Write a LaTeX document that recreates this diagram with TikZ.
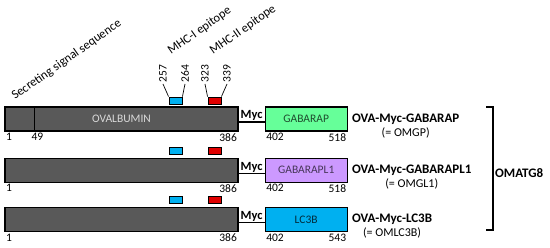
\documentclass[tikz,border=0pt]{standalone}
\usepackage{fontspec}
\setmainfont{Carlito}
\usepackage{xcolor}
\usetikzlibrary{positioning, calc}
\definecolor{cOVA}{HTML}{595959}
\definecolor{cGP}{HTML}{66FF99}
\definecolor{cGL}{HTML}{CC99FF}
\definecolor{cLC}{HTML}{00B0F0}
\definecolor{cMHCI}{HTML}{00B0F0}
\definecolor{cMHCII}{HTML}{E00000}
\tikzset{
  domain/.style={
    draw=black, line width=1.2pt,
    fill=#1,
    inner sep=0pt,
    minimum height=24pt,
    font=\fontsize{11.5}{13}\selectfont
  },
  ovabox/.style={
    domain=cOVA,
    minimum width=233pt,
    text=black!15
  },
  atgbox/.style={
    domain=#1,
    minimum width=82pt
  },
  epitope/.style={
    draw=black, line width=0.9pt,
    fill=#1,
    inner sep=0pt,
    minimum width=13pt,
    minimum height=7pt
  },
  linker/.style={
    line width=1.2pt,
    draw=black
  },
  myc/.style={
    font=\fontsize{12.5}{14}\selectfont\bfseries,
    midway,
    above=0pt,
    inner sep=0.5pt
  },
  resnum/.style={
    font=\fontsize{11.5}{13}\selectfont,
    inner sep=1.5pt
  },
  pin/.style={
    line width=0.7pt,
    draw=black
  },
  featlabel/.style={
    font=\fontsize{12.5}{14}\selectfont,
    inner sep=0pt
  },
  construct/.style={
    font=\fontsize{13}{15}\selectfont\bfseries,
    inner sep=1pt
  },
  alias/.style={
    font=\fontsize{12}{14}\selectfont,
    inner sep=1pt
  }
}

\begin{document}
\begin{tikzpicture}[x=1pt, y=-1pt, node distance=26pt and 26pt]
  \useasboundingbox (0,0) rectangle (550,248);

  % rows
  \node[ovabox] (ova1) at (121.5,119) {OVALBUMIN};
  \node[atgbox=cGP, right=of ova1, text=cGP!30!black] (gp) {GABARAP};
  \node[ovabox, below=26pt of ova1] (ova2) {};
  \node[atgbox=cGL, right=of ova2, text=cGL!35!black] (gl) {GABARAPL1};
  \node[ovabox, below=24pt of ova2] (ova3) {};
  \node[atgbox=cLC, right=of ova3, text=cLC!25!black] (lc) {LC3B};

  \draw[linker] ([yshift=-3pt]ova1.east) -- node[myc]{Myc} ([yshift=-3pt]gp.west);
  \draw[linker] ([yshift=-3pt]ova2.east) -- node[myc]{Myc} ([yshift=-3pt]gl.west);
  \draw[linker] ([yshift=-3pt]ova3.east) -- node[myc]{Myc} ([yshift=-3pt]lc.west);

  % signal peptide cut
  \draw[line width=0.9pt] ([xshift=30pt]ova1.north west) -- ([xshift=30pt]ova1.south west);

  % epitopes
  \node[epitope=cMHCI] (ep1a) at (175.5,100.5) {};
  \node[epitope=cMHCII] (ep1b) at (214.5,100.5) {};
  \node[epitope=cMHCI] (ep2a) at (175.5,150.5) {};
  \node[epitope=cMHCII] (ep2b) at (214.5,150.5) {};
  \node[epitope=cMHCI] (ep3a) at (175.5,199.5) {};
  \node[epitope=cMHCII] (ep3b) at (214.5,199.5) {};

  \node[resnum, rotate=90, anchor=west] (n257) at (163,84) {257};
  \node[resnum, rotate=90, anchor=west] (n264) at (185,84) {264};
  \node[resnum, rotate=90, anchor=west] (n323) at (205,84) {323};
  \node[resnum, rotate=90, anchor=west] (n339) at (227,84) {339};
  \draw[pin] (n257.west) -- (ep1a.north west);
  \draw[pin] (n264.west) -- (ep1a.north east);
  \draw[pin] (n323.west) -- (ep1b.north west);
  \draw[pin] (n339.west) -- (ep1b.north east);

  \node[featlabel, rotate=35, anchor=base west] (sig) at (15,100) {Secreting signal sequence};
  \node[featlabel, rotate=35, anchor=base west] (mhc1) at (171,55) {MHC-I epitope};
  \node[featlabel, rotate=35, anchor=base west] (mhc2) at (213,55) {MHC-II epitope};

  % residue numbers
  \node[resnum, anchor=north west] (a1) at (ova1.south west) {1};
  \node[resnum, anchor=north] (a49) at ([xshift=33pt]ova1.south west) {49};
  \node[resnum, anchor=north east] (a386) at (ova1.south east) {386};
  \node[resnum, anchor=north west] (a402) at (gp.south west) {402};
  \node[resnum, anchor=north east] (a518) at (gp.south east) {518};
  \node[resnum, anchor=north west] (b1) at (ova2.south west) {1};
  \node[resnum, anchor=north east] (b386) at (ova2.south east) {386};
  \node[resnum, anchor=north west] (b402) at (gl.south west) {402};
  \node[resnum, anchor=north east] (b518) at (gl.south east) {518};
  \node[resnum, anchor=north west] (c1) at (ova3.south west) {1};
  \node[resnum, anchor=north east] (c386) at (ova3.south east) {386};
  \node[resnum, anchor=north west] (c402) at (lc.south west) {402};
  \node[resnum, anchor=north east] (c543) at (lc.south east) {543};

  % construct names
  \node[construct, right=3pt of gp] (tgp) {OVA-Myc-GABARAP};
  \node[alias, below=1pt of tgp] (sgp) {(= OMGP)};
  \node[construct, right=3pt of gl] (tgl) {OVA-Myc-GABARAPL1};
  \node[alias, below=1pt of tgl] (sgl) {(= OMGL1)};
  \node[construct, right=3pt of lc] (tlc) {OVA-Myc-LC3B};
  \node[alias, below=1pt of tlc] (slc) {(= OMLC3B)};

  % bracket
  \coordinate (brtop) at (486,107);
  \coordinate (brbot) at (486,230);
  \draw[linker] (brtop) -- ++(7,0) |- (brbot);
  \node[construct, anchor=west] (omatg) at (494,173) {OMATG8};
\end{tikzpicture}
\end{document}
